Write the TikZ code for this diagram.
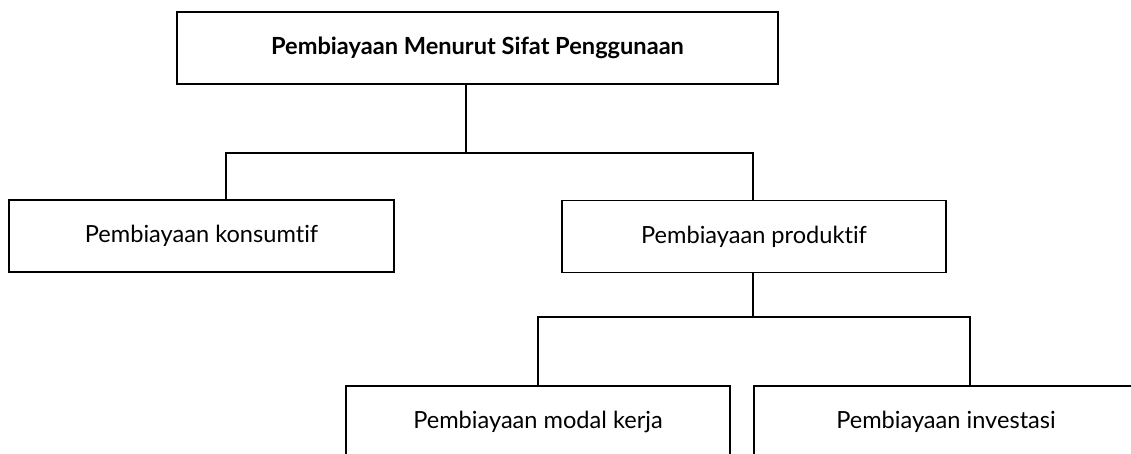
\documentclass[tikz,border=0pt]{standalone}
\usepackage{fontspec}
\setmainfont{Lato}[Ligatures=NoCommon]
\usepackage{tikz}
\usetikzlibrary{positioning}

\tikzset{
  kotak/.style={draw,line width=1.5pt,minimum height=72pt,inner sep=0pt,font=\fontsize{23.6}{28}\selectfont},
  garis/.style={line width=1.5pt}
}

\begin{document}
\begin{tikzpicture}[x=1pt,y=-1pt]
\useasboundingbox (0,0) rectangle (1131,453);
\node[kotak,minimum width=601pt,font=\fontsize{23.6}{28}\selectfont\bfseries] (atas) at (477.5,48) {Pembiayaan Menurut Sifat Penggunaan};
\node[kotak,minimum width=385pt] (konsumtif) at (201.5,236) {Pembiayaan konsumtif};
\node[kotak,minimum width=384pt] (produktif) at (754,236.5) {Pembiayaan produktif};
\node[kotak,minimum width=384pt] (modal) at (538,422) {Pembiayaan modal kerja};
\node[kotak,minimum width=384pt] (investasi) at (946,422) {Pembiayaan investasi};
% titik belok
\coordinate (c1) at (466,153);
\coordinate (c2) at (226,153);
\coordinate (c3) at (753,153);
\coordinate (c4) at (753,317);
\coordinate (c5) at (538,317);
\coordinate (c6) at (970,317);
\draw[garis] (atas.south -| c1) -- (c1);
\draw[garis] (konsumtif.north -| c2) -- (c2) -- (c3) -- (produktif.north -| c3);
\draw[garis] (produktif.south -| c4) -- (c4);
\draw[garis] (modal.north -| c5) -- (c5) -- (c6) -- (investasi.north -| c6);
\end{tikzpicture}
\end{document}
